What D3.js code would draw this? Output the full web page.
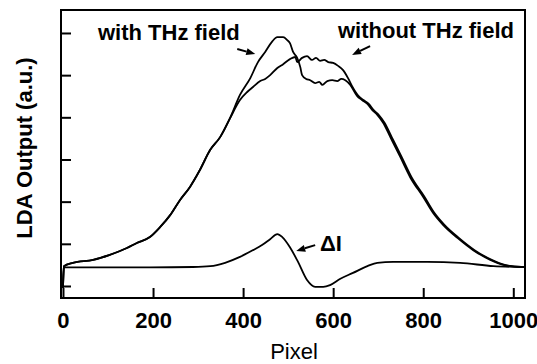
<!DOCTYPE html>
<html>
<head>
<meta charset="utf-8">
<script src="https://cdn.jsdelivr.net/npm/d3@7"></script>
<style>
  body { margin: 0; background: #fff; }
  text { font-family: "Liberation Sans", Arial, sans-serif; fill: #000; }
</style>
</head>
<body>
<div id="chart"></div>
<script>
// LDA output vs pixel
var xTicks = [0, 200, 400, 600, 800, 1000];
var yTicks = [0, 1, 2, 3, 4, 5, 6];

// rising flank, common to both traces
var riseX = [0, 2, 22, 67, 104, 142, 164, 193, 216, 238, 260, 282, 304, 327, 349, 371];
var riseY = [-0.05, 0.47, 0.55, 0.62, 0.74, 0.90, 1.02, 1.16, 1.40, 1.68, 2.04, 2.35, 2.75, 3.23, 3.53, 3.98];

// falling flank, common to both traces
var fallX = [653, 664, 676, 687, 698, 711, 727, 749, 771, 800, 822, 844, 876, 911, 949, 978, 1016, 1024];
var fallY = [4.51, 4.41, 4.32, 4.17, 4.06, 3.87, 3.53, 3.06, 2.58, 2.11, 1.73, 1.45, 1.14, 0.85, 0.62, 0.50, 0.45, 0.45];

// top part, with THz field
var withX = [393, 416, 433, 449, 464, 476, 489, 498, 504, 511, 520, 527, 531, 540, 549, 560, 569, 576, 587, 598, 609, 618, 627, 638];
var withY = [4.53, 4.93, 5.31, 5.55, 5.79, 5.90, 5.90, 5.83, 5.76, 5.55, 5.41, 5.19, 5.00, 4.91, 4.88, 4.81, 4.84, 4.77, 4.86, 4.88, 4.86, 4.91, 4.88, 4.77];

// top part, without THz field
var withoutX = [393, 409, 422, 438, 449, 460, 476, 489, 504, 516, 520, 531, 542, 553, 562, 571, 580, 589, 600, 611, 622, 633, 642];
var withoutY = [4.41, 4.60, 4.72, 4.86, 4.91, 5.00, 5.17, 5.26, 5.38, 5.43, 5.31, 5.41, 5.45, 5.36, 5.41, 5.34, 5.36, 5.31, 5.29, 5.22, 5.12, 4.93, 4.74];

// difference signal
var deltaX = [0, 2, 82, 193, 289, 327, 360, 393, 422, 442, 460, 476, 487, 504, 522, 542, 560, 578, 593, 616, 644, 676, 698, 733, 809, 882, 956, 1024];
var deltaY = [-0.05, 0.44, 0.44, 0.44, 0.45, 0.47, 0.55, 0.69, 0.85, 0.97, 1.11, 1.23, 1.16, 0.92, 0.57, 0.14, -0.02, -0.02, 0.02, 0.17, 0.31, 0.47, 0.55, 0.57, 0.57, 0.55, 0.47, 0.45];

var svgWidth = 537;
var svgHeight = 364;
var plot = { left: 61, right: 525, top: 10, bottom: 298 };

var svg = d3.select("#chart")
    .append("svg")
    .attr("width", svgWidth)
    .attr("height", svgHeight);

var x = d3.scaleLinear().domain([-4.4, 1026]).range([plot.left, plot.right]);
var y = d3.scaleLinear().domain([-0.285, 6.545]).range([plot.bottom, plot.top]);

function pts(xs, ys) {
    return xs.map(function(v, i) { return [v, ys[i]]; });
}

var withTrace = pts(riseX, riseY).concat(pts(withX, withY), pts(fallX, fallY));
// slightly offset on the falling edge, the two traces look doubled there
var withoutTrace = pts(riseX, riseY).concat(pts(withoutX, withoutY),
    pts(fallX, fallY).map(function(d) { return [d[0] + 3, d[1]]; }));
var deltaTrace = pts(deltaX, deltaY);

var line = d3.line()
    .x(d => x(d[0]))
    .y(d => y(d[1]))
    .curve(d3.curveMonotoneX);

[withTrace, withoutTrace, deltaTrace].forEach(function(tr) {
    svg.append("path")
        .datum(tr.filter(d => d[0] <= 1026))
        .attr("d", line)
        .attr("fill", "none")
        .attr("stroke", "#000")
        .attr("stroke-width", 1.8)
        .attr("stroke-linejoin", "round");
});

// Axes (ticks pointing inward)
var xAxis = d3.axisBottom(x).tickValues(xTicks).tickSize(-10).tickPadding(14).tickFormat(d3.format("d"));
var yAxis = d3.axisLeft(y).tickValues(yTicks).tickSize(-10).tickFormat("");

var gx = svg.append("g")
    .attr("transform", `translate(0, ${plot.bottom})`)
    .call(xAxis);
gx.select(".domain").remove();
gx.selectAll("line").attr("stroke-width", 2);
gx.selectAll("text")
    .attr("font-size", 22)
    .attr("font-weight", "bold")
    .attr("font-family", "Liberation Sans, Arial, sans-serif");

var gy = svg.append("g")
    .attr("transform", `translate(${plot.left}, 0)`)
    .call(yAxis);
gy.select(".domain").remove();
gy.selectAll("line").attr("stroke-width", 2);

// frame
svg.append("rect")
    .attr("x", plot.left)
    .attr("y", plot.top)
    .attr("width", plot.right - plot.left)
    .attr("height", plot.bottom - plot.top)
    .attr("fill", "none")
    .attr("stroke", "#000")
    .attr("stroke-width", 2);

// axis titles
svg.append("text")
    .attr("x", (plot.left + plot.right) / 2 + 1)
    .attr("y", 359)
    .attr("text-anchor", "middle")
    .attr("font-size", 22)
    .text("Pixel");

svg.append("text")
    .attr("transform", "rotate(-90)")
    .attr("x", -148)
    .attr("y", 32)
    .attr("text-anchor", "middle")
    .attr("font-size", 22)
    .attr("font-weight", "bold")
    .text("LDA Output (a.u.)");

// annotations
svg.append("text").attr("x", 98).attr("y", 40).attr("font-size", 22).attr("font-weight", "bold").text("with THz field");
svg.append("text").attr("x", 338).attr("y", 38).attr("font-size", 22).attr("font-weight", "bold").text("without THz field");
svg.append("text").attr("x", 320).attr("y", 251).attr("font-size", 22).attr("font-weight", "bold").text("\u0394I");

// small filled arrows, tail -> tip in data units
var arrows = [
    [[387, 5.62], [427, 5.50]],
    [[682, 5.69], [642, 5.48]],
    [[560, 0.97], [518, 0.83]]
];
arrows.forEach(function(a) {
    var x0 = x(a[0][0]), y0 = y(a[0][1]), x1 = x(a[1][0]), y1 = y(a[1][1]);
    var ang = Math.atan2(y1 - y0, x1 - x0);
    var hl = 9, hw = 3.5;
    var bx = x1 - hl * Math.cos(ang), by = y1 - hl * Math.sin(ang);
    svg.append("line")
        .attr("x1", x0).attr("y1", y0).attr("x2", bx).attr("y2", by)
        .attr("stroke", "#000").attr("stroke-width", 2);
    svg.append("path")
        .attr("d", `M${x1},${y1}L${bx + hw * Math.sin(ang)},${by - hw * Math.cos(ang)}L${bx - hw * Math.sin(ang)},${by + hw * Math.cos(ang)}Z`)
        .attr("fill", "#000");
});
</script>
</body>
</html>
